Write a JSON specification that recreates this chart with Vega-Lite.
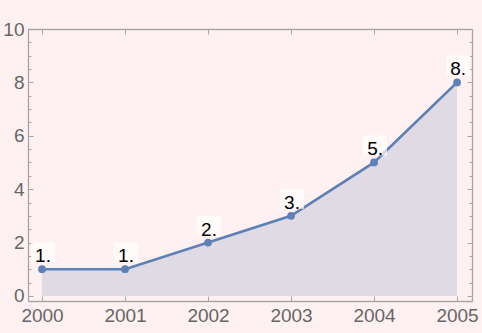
{
  "$schema": "https://vega.github.io/schema/vega-lite/v6.json",
  "width": 444,
  "height": 272,
  "autosize": "none",
  "padding": {"left": 28, "top": 29, "right": 10, "bottom": 32},
  "background": "#fff1f1",
  "config": {
    "view": {"stroke": null},
    "axis": {
      "domainColor": "#a6a6a6",
      "domainWidth": 1.3,
      "tickColor": "#a6a6a6",
      "tickWidth": 1,
      "labelColor": "#666666",
      "labelFont": "Liberation Sans",
      "labelFontSize": 19,
      "grid": false,
      "title": null
    }
  },
  "data": {
    "values": [
      {"year": 2000, "value": 1, "label": "1."},
      {"year": 2001, "value": 1, "label": "1."},
      {"year": 2002, "value": 2, "label": "2."},
      {"year": 2003, "value": 3, "label": "3."},
      {"year": 2004, "value": 5, "label": "5."},
      {"year": 2005, "value": 8, "label": "8."}
    ]
  },
  "layer": [
    {
      "encoding": {
        "x": {
          "field": "year", "type": "quantitative",
          "scale": {"domain": [1999.831, 2005.18], "nice": false, "zero": false},
          "axis": {"orient": "bottom", "values": [2000, 2001, 2002, 2003, 2004, 2005], "format": "d", "tickSize": -5, "labelPadding": 10, "labelFlush": false}
        },
        "y": {
          "field": "value", "type": "quantitative",
          "scale": {"domain": [-0.19, 10], "nice": false, "zero": false},
          "axis": {
            "orient": "left",
            "values": [0, 0.5, 1, 1.5, 2, 2.5, 3, 3.5, 4, 4.5, 5, 5.5, 6, 6.5, 7, 7.5, 8, 8.5, 9, 9.5, 10],
            "labelExpr": "datum.value % 2 === 0 ? format(datum.value, 'd') : ''",
            "tickSize": {"condition": {"test": "datum.value % 2 === 0", "value": -5}, "value": -3},
            "labelPadding": 9,
            "labelFlush": false
          }
        }
      },
      "layer": [
        {"mark": {"type": "area", "color": "#5E81B5", "opacity": 0.2}, "encoding": {"y2": {"datum": 0}}},
        {"mark": {"type": "line", "color": "#5E81B5", "strokeWidth": 2.7}},
        {"mark": {"type": "point", "filled": true, "color": "#5E81B5", "opacity": 1, "size": 60}},
        {"mark": {"type": "point", "shape": "M-1.2,-1L1.2,-1L1.2,1L-1.2,1Z", "filled": true, "color": "#ffffff", "opacity": 0.7, "size": 400, "yOffset": -17, "xOffset": 1}},
        {"mark": {"type": "text", "font": "Liberation Sans", "fontSize": 19, "color": "#000000", "baseline": "alphabetic", "dy": -7, "dx": 1}, "encoding": {"text": {"field": "label"}}}
      ]
    },
    {
      "mark": {"type": "point", "opacity": 0},
      "encoding": {
        "x": {
          "field": "year", "type": "quantitative",
          "scale": {"domain": [1999.831, 2005.18], "nice": false, "zero": false},
          "axis": {"orient": "top", "values": [2000, 2001, 2002, 2003, 2004, 2005], "tickSize": -5, "labels": false}
        },
        "y": {
          "field": "value", "type": "quantitative",
          "scale": {"domain": [-0.19, 10], "nice": false, "zero": false},
          "axis": {
            "orient": "right",
            "values": [0, 0.5, 1, 1.5, 2, 2.5, 3, 3.5, 4, 4.5, 5, 5.5, 6, 6.5, 7, 7.5, 8, 8.5, 9, 9.5, 10],
            "tickSize": {"condition": {"test": "datum.value % 2 === 0", "value": -5}, "value": -3},
            "labels": false
          }
        }
      }
    }
  ],
  "resolve": {"axis": {"x": "independent", "y": "independent"}}
}
